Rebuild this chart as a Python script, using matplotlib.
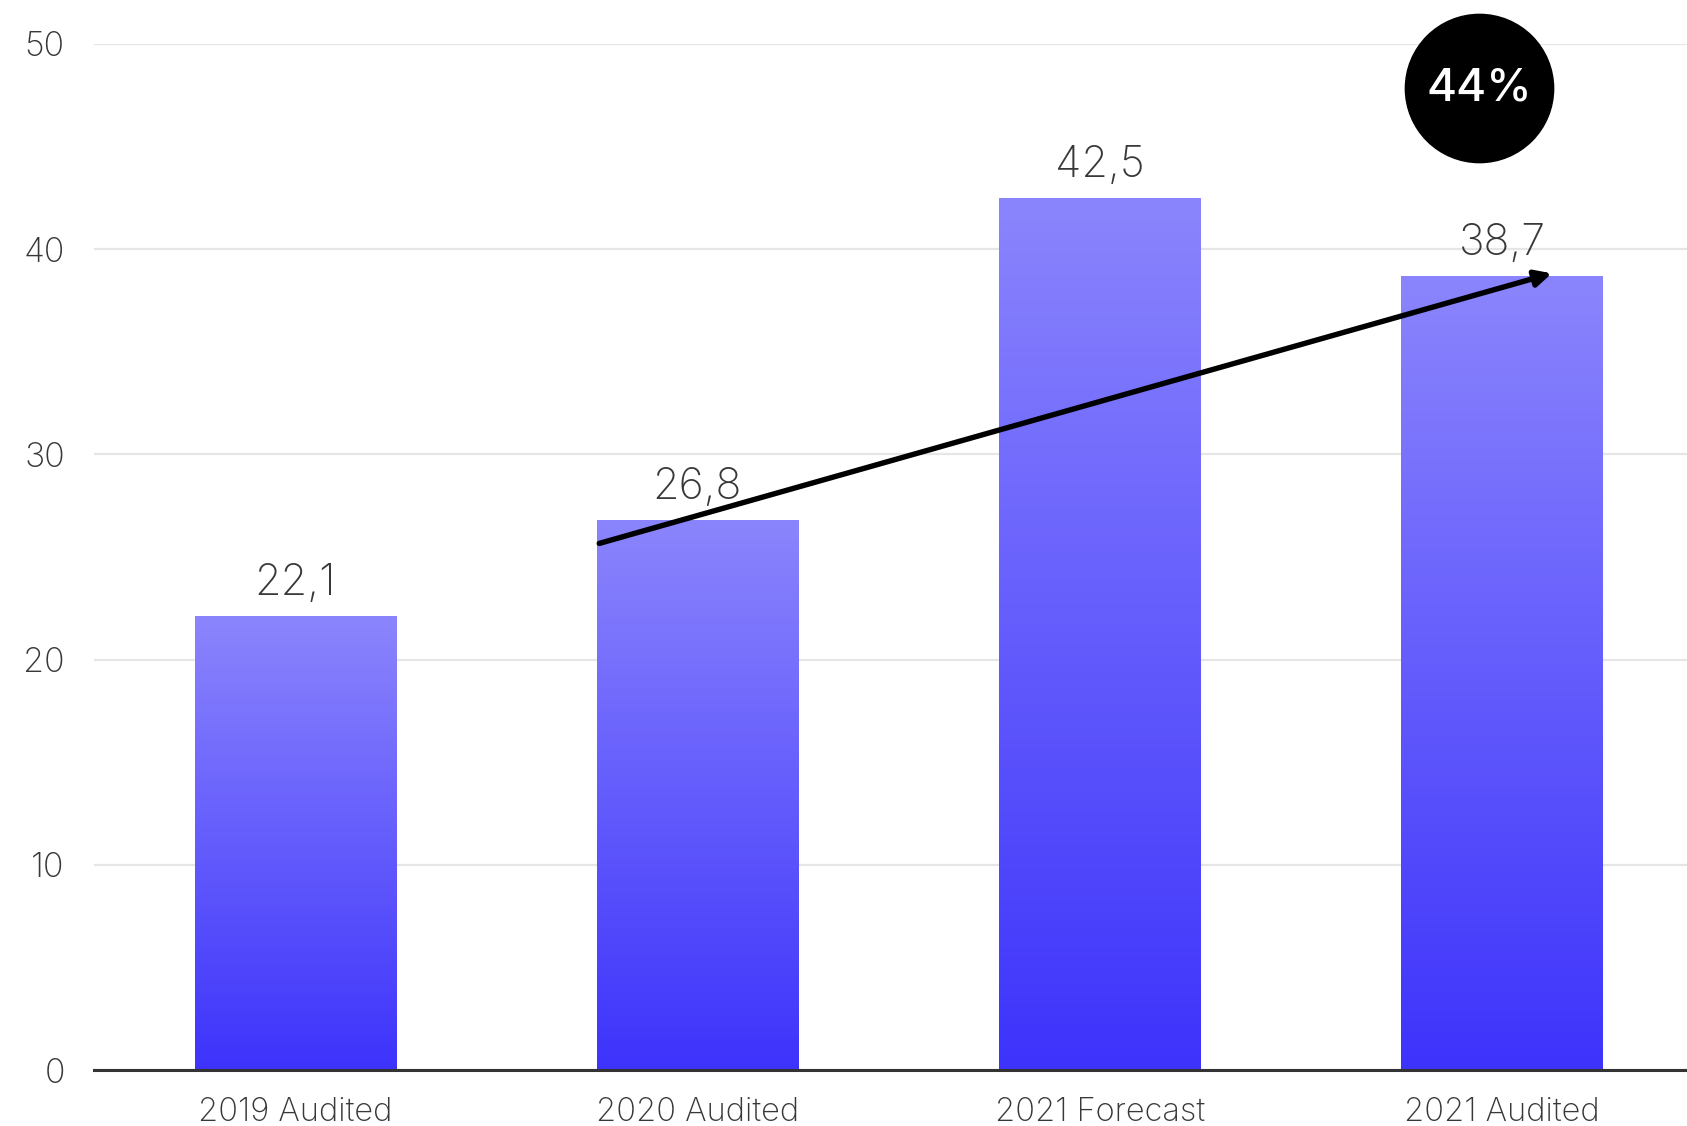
import matplotlib
matplotlib.use('Agg')
import matplotlib.pyplot as plt
import numpy as np
from matplotlib.colors import LinearSegmentedColormap

plt.rcParams['font.family'] = ['Inter', 'DejaVu Sans']

categories = ['2019 Audited', '2020 Audited', '2021 Forecast', '2021 Audited']
values = [22.1, 26.8, 42.5, 38.7]
value_labels = ['22,1', '26,8', '42,5', '38,7']
growth_label = '44%'
y_ticks = [0, 10, 20, 30, 40, 50]

TEXT_COLOR = '#383838'
TOP_COLOR = '#8b85fd'
BOTTOM_COLOR = '#3d33fb'

fig = plt.figure(figsize=(16.87, 11.26), dpi=100)
ax = fig.add_axes([0.0557, 0.0497, 0.9443, 0.9113])

x = np.arange(len(categories))
bars = ax.bar(x, values, width=0.5, color='none', zorder=2)

# gradient fill per bar, light at the top, strong blue at the bottom
cmap = LinearSegmentedColormap.from_list('bar_grad', [BOTTOM_COLOR, TOP_COLOR])
grad = np.linspace(0, 1, 256).reshape(-1, 1)
for bar in bars:
    x0 = bar.get_x()
    w = bar.get_width()
    h = bar.get_height()
    im = ax.imshow(grad, cmap=cmap, aspect='auto', origin='lower',
                   extent=[x0, x0 + w, 0, h], zorder=2)
    im.set_clip_path(bar)

for xi, v, lab in zip(x, values, value_labels):
    ax.text(xi, v + 0.6, lab, ha='center', va='bottom', fontsize=31,
            color=TEXT_COLOR, fontweight='light')

# trend arrow from 2020 to 2021 audited
ax.annotate('', xy=(3.124, 38.82), xytext=(0.756, 25.66),
            arrowprops=dict(arrowstyle='-|>', color='black', lw=3.9,
                            mutation_scale=24, shrinkA=0, shrinkB=0),
            zorder=4)

# growth bubble
ax.scatter([2.943], [47.85], s=11400, color='black', zorder=5, clip_on=False)
ax.text(2.943, 47.85, growth_label, ha='center', va='center', fontsize=33,
        color='white', fontweight='medium', zorder=6)

ax.set_xlim(-0.5, 3.46)
ax.set_ylim(0, 50)
ax.set_yticks(y_ticks)
ax.set_yticklabels([str(t) for t in y_ticks])
ax.set_xticks(x)
ax.set_xticklabels(categories)
ax.tick_params(axis='both', length=0, labelcolor=TEXT_COLOR)
ax.tick_params(axis='y', pad=21, labelsize=24.5)
ax.tick_params(axis='x', pad=19, labelsize=23.5)
for lab in ax.get_xticklabels() + ax.get_yticklabels():
    lab.set_fontweight('light')

ax.grid(axis='y', color='#e6e6e6', lw=1.6, zorder=0)
ax.set_axisbelow(True)
for side in ['top', 'right', 'left']:
    ax.spines[side].set_visible(False)
ax.spines['bottom'].set_color('#333333')
ax.spines['bottom'].set_linewidth(2.2)
ax.spines['bottom'].set_zorder(3)

fig.savefig('out.png', dpi=100)
